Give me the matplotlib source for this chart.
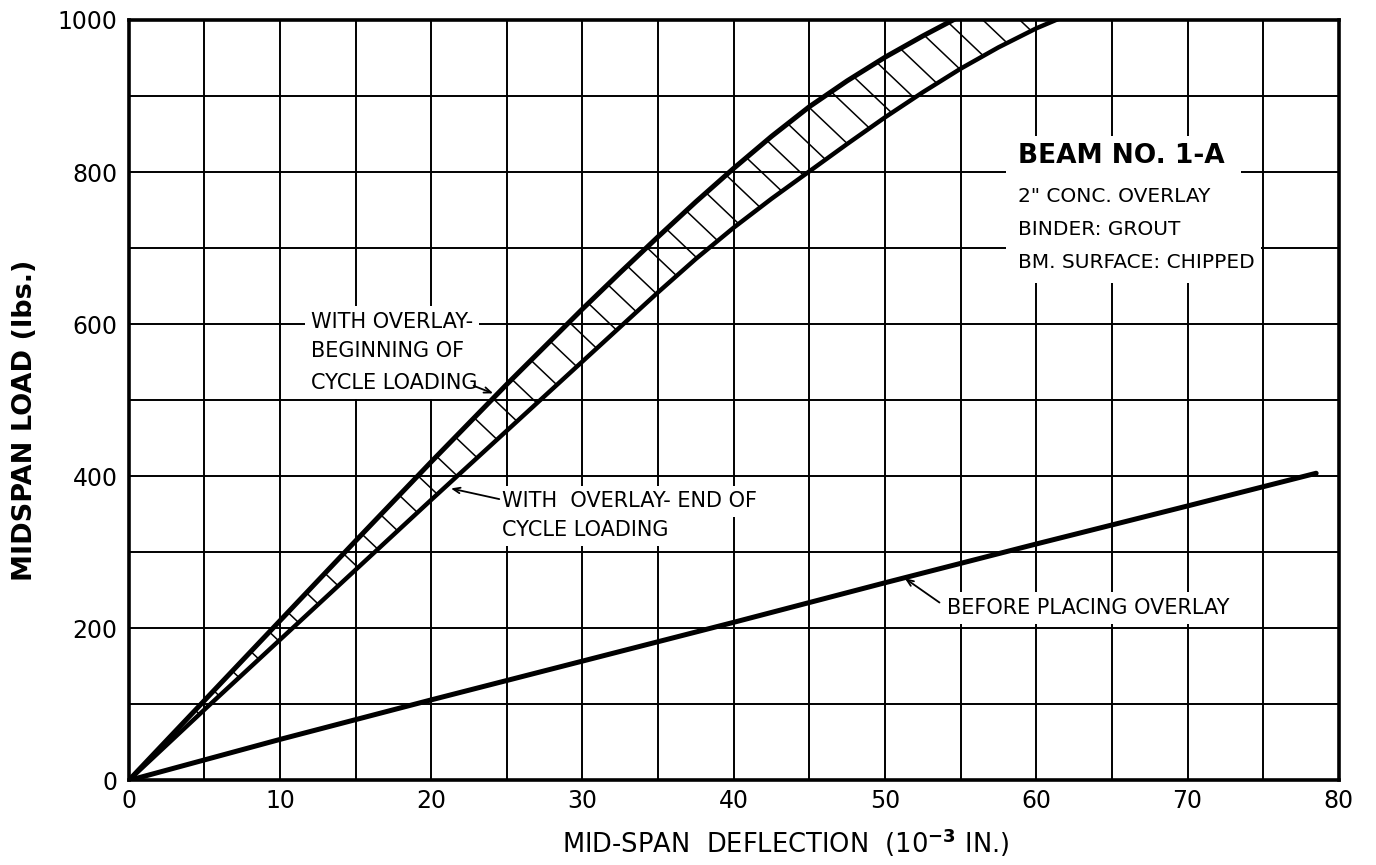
import numpy as np
import matplotlib
matplotlib.use("Agg")
import matplotlib.pyplot as plt
from matplotlib.patches import Rectangle

# ---------------- data ----------------
upper_x = [0, 5, 10, 15, 20, 25, 30, 32.5, 35, 37.5, 40, 42.5, 45, 47.5, 50, 52.5, 54.5]
upper_y = [0, 105, 210, 315, 419, 521, 620, 668, 715, 761, 805, 847, 886, 920, 951, 979, 1000]

lower_x = [0, 5, 10, 15, 20, 25, 30, 35, 37.5, 40, 42.5, 45, 47.5, 50, 52.5, 55, 57.5, 60, 61.3]
lower_y = [0, 93, 185, 277, 369, 460, 551, 642, 686, 727, 765, 801, 837, 872, 905, 936, 964, 989, 1000]

before_x = [0, 10, 20, 30, 40, 50, 60, 70, 78.5]
before_y = [0, 54, 106, 157, 208, 260, 311, 361, 404]

x_ticks = [0, 10, 20, 30, 40, 50, 60, 70, 80]
y_ticks = [0, 200, 400, 600, 800, 1000]
x_grid = np.arange(0, 81, 5)
y_grid = np.arange(0, 1001, 100)

x_label = r"MID-SPAN  DEFLECTION  (10$^{\mathbf{-3}}$ IN.)"
y_label = "MIDSPAN LOAD (lbs.)"

ann_begin = ["WITH OVERLAY-", "BEGINNING OF", "CYCLE LOADING"]
ann_end = ["WITH  OVERLAY- END OF", "CYCLE LOADING"]
ann_before = "BEFORE PLACING OVERLAY"
box_title = "BEAM NO. 1-A"
box_lines = ["2\" CONC. OVERLAY", "BINDER: GROUT", "BM. SURFACE: CHIPPED"]

# ---------------- figure ----------------
W, H, DPI = 13.76, 8.65, 100
fig = plt.figure(figsize=(W, H), dpi=DPI)
left, right, bottom, top = 0.0935, 0.973, 0.0977, 0.9769
ax = fig.add_axes([left, bottom, right - left, top - bottom])
ax.set_xlim(0, 80)
ax.set_ylim(0, 1000)

ax.set_axisbelow(True)
ax.set_xticks(x_grid, minor=True)
ax.set_yticks(y_grid, minor=True)
ax.set_xticks(x_ticks)
ax.set_yticks(y_ticks)
ax.grid(which="both", color="black", linewidth=1.4)
ax.tick_params(which="both", length=0)
ax.tick_params(axis="y", pad=8, labelsize=17)
ax.tick_params(axis="x", pad=6, labelsize=17)
for s in ax.spines.values():
    s.set_linewidth(2.6)

ax.set_xlabel(x_label, fontsize=18.5, va="center")
ax.xaxis.set_label_coords(0.543, -0.082)
ax.set_ylabel(y_label, fontsize=19.5, fontweight="bold", va="center", ha="center")
ax.yaxis.set_label_coords(-0.0857, 0.473)

# ---------------- curves ----------------
ax.plot(upper_x, upper_y, color="black", lw=3.6, solid_joinstyle="round", zorder=3)
ax.plot(lower_x, lower_y, color="black", lw=3.2, solid_joinstyle="round", zorder=3)
ax.plot(before_x, before_y, color="black", lw=3.6, solid_capstyle="round",
        solid_joinstyle="round", zorder=3)

# ---------------- hatching between the two overlay curves ----------------
ax_w_px = W * DPI * (right - left)
ax_h_px = H * DPI * (top - bottom)
sx, sy = ax_w_px / 80.0, ax_h_px / 1000.0
U = np.column_stack([np.asarray(upper_x) * sx, np.asarray(upper_y) * sy])
L = np.column_stack([np.asarray(lower_x) * sx, np.asarray(lower_y) * sy])
segL = np.diff(L, axis=0)
lenL = np.hypot(segL[:, 0], segL[:, 1])
cum = np.concatenate([[0], np.cumsum(lenL)])
segU = np.diff(U, axis=0)
n = np.array([-1.0, 0.95])
n = n / np.hypot(*n)

for s in np.arange(70, cum[-1], 27.0):
    i = min(max(np.searchsorted(cum, s) - 1, 0), len(lenL) - 1)
    t = (s - cum[i]) / lenL[i]
    P = L[i] + t * segL[i]
    best = None
    for j in range(len(segU)):
        A = U[j]
        e = segU[j]
        M = np.array([[n[0], -e[0]], [n[1], -e[1]]])
        if abs(np.linalg.det(M)) < 1e-9:
            continue
        k, m = np.linalg.solve(M, A - P)
        ok = (0 <= m <= 1) or (j == len(segU) - 1 and m > 1)
        if ok and k > 0 and (best is None or k < best):
            best = k
    if best is None:
        continue
    Q = P + best * n
    ax.plot([P[0] / sx, Q[0] / sx], [P[1] / sy, Q[1] / sy],
            color="black", lw=1.1, zorder=2.9)

# ---------------- annotations ----------------
wb = dict(boxstyle="square,pad=0.28", fc="white", ec="none")
fs = 15
aprops = dict(arrowstyle="->,head_length=0.5,head_width=0.2",
              lw=1.3, color="black", shrinkA=0, shrinkB=0)

ax.add_patch(Rectangle((58.0, 654), 15.5, 194, facecolor="white",
                       edgecolor="none", zorder=1))

for txt, yy in zip(ann_begin, [603, 565, 523]):
    ax.text(12.05, yy, txt, fontsize=fs, va="center", ha="left", bbox=wb, zorder=3)
ax.annotate("", xy=(24.1, 509), xytext=(22.8, 519), arrowprops=aprops, zorder=4)

for txt, yy in zip(ann_end, [367, 329]):
    ax.text(24.65, yy, txt, fontsize=fs, va="center", ha="left", bbox=wb, zorder=3)
ax.annotate("", xy=(21.3, 384), xytext=(24.5, 370), arrowprops=aprops, zorder=4)

ax.text(54.1, 227, ann_before, fontsize=fs, va="center", ha="left", bbox=wb, zorder=3)
ax.annotate("", xy=(51.3, 266), xytext=(53.6, 234), arrowprops=aprops, zorder=4)

ax.text(58.8, 821, box_title, fontsize=19, va="center", ha="left",
        fontweight="bold", bbox=wb, zorder=3)
for txt, yy in zip(box_lines, [768, 724, 681]):
    ax.text(58.8, yy, txt, fontsize=14.5, va="center", ha="left", bbox=wb, zorder=3)

fig.savefig("out.png", dpi=DPI, facecolor="white")
